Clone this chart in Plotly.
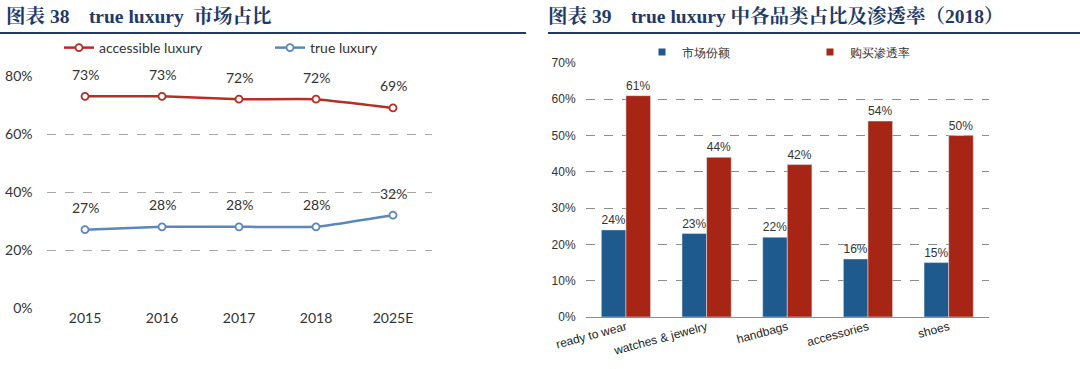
import plotly.graph_objects as go

# ---- data: left chart ----
years = ["2015", "2016", "2017", "2018", "2025E"]
accessible_luxury = [0.73, 0.73, 0.72, 0.72, 0.69]
true_luxury = [0.27, 0.28, 0.28, 0.28, 0.32]
left_ticks = [0, 0.2, 0.4, 0.6, 0.8]

# ---- data: right chart ----
categories = ["ready to wear", "watches & jewelry", "handbags", "accessories", "shoes"]
market_share = [0.24, 0.23, 0.22, 0.16, 0.15]
penetration = [0.61, 0.44, 0.42, 0.54, 0.50]
right_ticks = [0, 0.1, 0.2, 0.3, 0.4, 0.5, 0.6, 0.7]

W, H = 1080, 369
def px(x):
    return x / W
def py(y):
    return 1 - y / H

RED_LINE = "#B52F25"
BLUE_LINE = "#5B88B8"
BAR_BLUE = "#1F5A8E"
BAR_RED = "#A62515"
NAVY = "#1F3A68"
LFONT = "Lato, Open Sans, sans-serif"
RFONT = "Liberation Sans, Arial, sans-serif"

fig = go.Figure()

fig.add_trace(go.Scatter(
    x=years, y=accessible_luxury, name="accessible luxury", mode="lines+markers",
    line=dict(color=RED_LINE, width=2.5, shape="spline", smoothing=0.3),
    marker=dict(symbol="circle", size=7, color="white", line=dict(color=RED_LINE, width=1.8)),
    xaxis="x", yaxis="y", legend="legend"))
fig.add_trace(go.Scatter(
    x=years, y=true_luxury, name="true luxury", mode="lines+markers",
    line=dict(color=BLUE_LINE, width=2.5, shape="spline", smoothing=0.3),
    marker=dict(symbol="circle", size=7, color="white", line=dict(color=BLUE_LINE, width=1.8)),
    xaxis="x", yaxis="y", legend="legend"))

fig.add_trace(go.Bar(
    x=categories, y=market_share, name="市场份额", marker_color=BAR_BLUE,
    text=[f"{v:.0%}" for v in market_share], textposition="outside",
    textfont=dict(family=RFONT, size=12, color="#333333"), cliponaxis=False,
    showlegend=False, xaxis="x2", yaxis="y2"))
fig.add_trace(go.Bar(
    x=categories, y=penetration, name="购买渗透率", marker_color=BAR_RED,
    text=[f"{v:.0%}" for v in penetration], textposition="outside",
    textfont=dict(family=RFONT, size=12, color="#333333"), cliponaxis=False,
    showlegend=False, xaxis="x2", yaxis="y2"))

# legend-only entries with small square swatches
for nm, col in (("市场份额", BAR_BLUE), ("购买渗透率", BAR_RED)):
    fig.add_trace(go.Scatter(x=[None], y=[None], mode="markers", name=nm,
                             marker=dict(symbol="square", size=7, color=col),
                             xaxis="x2", yaxis="y2", legend="legend2"))

annotations = []
for series in (accessible_luxury, true_luxury):
    for i, yv in enumerate(series):
        annotations.append(dict(x=i, y=yv, xref="x", yref="y", text=f"{yv:.0%}",
                                showarrow=False, yshift=22, yanchor="middle",
                                font=dict(family=LFONT, size=14, color="#333333")))

nb = "\u00a0"
title_font = "Liberation Serif, Noto Serif CJK SC, Noto Sans CJK SC, serif"
annotations.append(dict(x=px(4), y=py(16), xref="paper", yref="paper", xanchor="left", yanchor="middle",
                        text=f"<b>图表{nb}38{nb}{nb}{nb}{nb}true{nb}luxury{nb}{nb}市场占比</b>",
                        showarrow=False, font=dict(family=title_font, size=19.5, color=NAVY)))
annotations.append(dict(x=px(546), y=py(16), xref="paper", yref="paper", xanchor="left", yanchor="middle",
                        text=f"<b>图表{nb}39{nb}{nb}{nb}{nb}true{nb}luxury{nb}中各品类占比及渗透率（2018）</b>",
                        showarrow=False, font=dict(family=title_font, size=19.5, color=NAVY)))

shapes = [
    dict(type="line", xref="paper", yref="paper", x0=0, x1=px(526), y0=py(33), y1=py(33),
         line=dict(color=NAVY, width=2)),
    dict(type="line", xref="paper", yref="paper", x0=px(548), x1=1, y0=py(33), y1=py(33),
         line=dict(color=NAVY, width=2)),
]

fig.update_layout(
    width=W, height=H, margin=dict(l=0, r=0, t=0, b=0, autoexpand=False),
    paper_bgcolor="white", plot_bgcolor="white",
    barmode="group", bargap=0.39, bargroupgap=0,
    annotations=annotations, shapes=shapes,
    xaxis=dict(domain=[px(46.5), px(431.5)], type="category", range=[-0.5, 4.5],
               showgrid=False, showline=False, ticks="", zeroline=False, automargin=False,
               tickfont=dict(family=LFONT, size=14, color="#333333"), anchor="y"),
    yaxis=dict(domain=[py(308), py(76)], range=[0, 0.8], tickvals=left_ticks, tickformat=".0%",
               showgrid=True, gridcolor="#A8A8A8", griddash="dash", gridwidth=1,
               zeroline=False, showline=False, ticks="", ticklabelstandoff=13, automargin=False,
               tickfont=dict(family=LFONT, size=14, color="#333333"), anchor="x"),
    xaxis2=dict(domain=[px(585.6), px(989)], type="category", range=[-0.5, 4.5],
                showgrid=False, showline=False, ticks="", zeroline=False, tickangle=-15,
                automargin=False,
                tickfont=dict(family=RFONT, size=12, color="#222222"), anchor="y2"),
    yaxis2=dict(domain=[py(317), py(63)], range=[0, 0.7], tickvals=right_ticks, tickformat=".0%",
                showgrid=True, gridcolor="#8C8C8C", griddash="dash", gridwidth=1,
                zeroline=True, zerolinecolor="#8C8C8C", zerolinewidth=1,
                showline=False, ticks="", ticklabelstandoff=9, automargin=False,
                tickfont=dict(family=RFONT, size=12, color="#333333"), anchor="x2"),
    legend=dict(orientation="h", x=px(59), y=py(48), xanchor="left", yanchor="middle",
                font=dict(family=LFONT, size=14, color="#333333"), bgcolor="rgba(0,0,0,0)",
                entrywidth=166, entrywidthmode="pixels"),
    legend2=dict(orientation="h", x=px(642), y=py(52), xanchor="left", yanchor="middle",
                 font=dict(family=RFONT, size=12, color="#333333"), bgcolor="rgba(0,0,0,0)",
                 entrywidth=123, entrywidthmode="pixels", itemwidth=30),
)

fig.write_html("out.html", config={"displayModeBar": False},
               post_script="document.body.style.margin='0';")
